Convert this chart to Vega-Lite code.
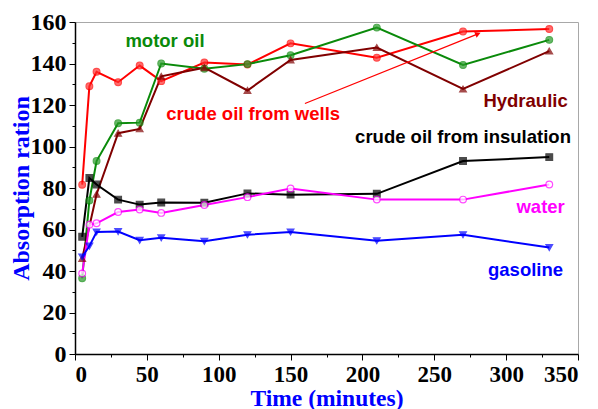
{
  "$schema": "https://vega.github.io/schema/vega-lite/v6.json",
  "autosize": {"type": "none"},
  "padding": {"left": 75, "top": 22, "right": 20, "bottom": 55},
  "width": 503,
  "height": 332,
  "config": {"view": {"stroke": "#a8a8a8", "strokeWidth": 1}},
  "datasets": {
    "series": [
      {"s": "wells", "t": 5, "v": 81.6}, {"s": "wells", "t": 10, "v": 129}, {"s": "wells", "t": 15, "v": 136}, {"s": "wells", "t": 30, "v": 131}, {"s": "wells", "t": 45, "v": 139}, {"s": "wells", "t": 60, "v": 131.5}, {"s": "wells", "t": 90, "v": 140.5}, {"s": "wells", "t": 120, "v": 139.5}, {"s": "wells", "t": 150, "v": 149.7}, {"s": "wells", "t": 210, "v": 142.8}, {"s": "wells", "t": 270, "v": 155.4}, {"s": "wells", "t": 330, "v": 156.6},
      {"s": "motor", "t": 5, "v": 36.5}, {"s": "motor", "t": 10, "v": 74}, {"s": "motor", "t": 15, "v": 93}, {"s": "motor", "t": 30, "v": 111.2}, {"s": "motor", "t": 45, "v": 111.5}, {"s": "motor", "t": 60, "v": 140}, {"s": "motor", "t": 90, "v": 137.5}, {"s": "motor", "t": 120, "v": 139.7}, {"s": "motor", "t": 150, "v": 144}, {"s": "motor", "t": 210, "v": 157.3}, {"s": "motor", "t": 270, "v": 139.3}, {"s": "motor", "t": 330, "v": 151.4},
      {"s": "hydraulic", "t": 5, "v": 46}, {"s": "hydraulic", "t": 15, "v": 77}, {"s": "hydraulic", "t": 30, "v": 106.4}, {"s": "hydraulic", "t": 45, "v": 108.5}, {"s": "hydraulic", "t": 60, "v": 133.8}, {"s": "hydraulic", "t": 90, "v": 138}, {"s": "hydraulic", "t": 120, "v": 127}, {"s": "hydraulic", "t": 150, "v": 141.7}, {"s": "hydraulic", "t": 210, "v": 147.7}, {"s": "hydraulic", "t": 270, "v": 127.7}, {"s": "hydraulic", "t": 330, "v": 146},
      {"s": "insulation", "t": 5, "v": 56.5}, {"s": "insulation", "t": 10, "v": 84.8}, {"s": "insulation", "t": 15, "v": 81.7}, {"s": "insulation", "t": 30, "v": 74.4}, {"s": "insulation", "t": 45, "v": 72}, {"s": "insulation", "t": 60, "v": 73}, {"s": "insulation", "t": 90, "v": 72.9}, {"s": "insulation", "t": 120, "v": 77.4}, {"s": "insulation", "t": 150, "v": 76.8}, {"s": "insulation", "t": 210, "v": 77.2}, {"s": "insulation", "t": 270, "v": 93}, {"s": "insulation", "t": 330, "v": 94.9},
      {"s": "water", "t": 5, "v": 38.8}, {"s": "water", "t": 10, "v": 62.3}, {"s": "water", "t": 15, "v": 63}, {"s": "water", "t": 30, "v": 68.4}, {"s": "water", "t": 45, "v": 69.6}, {"s": "water", "t": 60, "v": 68}, {"s": "water", "t": 90, "v": 71.8}, {"s": "water", "t": 120, "v": 75.6}, {"s": "water", "t": 150, "v": 79.8}, {"s": "water", "t": 210, "v": 74.4}, {"s": "water", "t": 270, "v": 74.4}, {"s": "water", "t": 330, "v": 81.7},
      {"s": "gasoline", "t": 5, "v": 46.8}, {"s": "gasoline", "t": 10, "v": 52}, {"s": "gasoline", "t": 15, "v": 58.8}, {"s": "gasoline", "t": 30, "v": 59}, {"s": "gasoline", "t": 45, "v": 54.8}, {"s": "gasoline", "t": 60, "v": 56}, {"s": "gasoline", "t": 90, "v": 54.3}, {"s": "gasoline", "t": 120, "v": 57.5}, {"s": "gasoline", "t": 150, "v": 58.8}, {"s": "gasoline", "t": 210, "v": 54.6}, {"s": "gasoline", "t": 270, "v": 57.5}, {"s": "gasoline", "t": 330, "v": 51.3}
    ],
    "labels": [
      {"s": "motor", "t": 62.6, "v": 151, "text": "motor oil"},
      {"s": "wells", "t": 124, "v": 115.9, "text": "crude oil from wells"},
      {"s": "hydraulic", "t": 313.5, "v": 122, "text": "Hydraulic"},
      {"s": "insulation", "t": 270, "v": 104.5, "text": "crude oil from insulation"},
      {"s": "water", "t": 324, "v": 70.8, "text": "water"},
      {"s": "gasoline", "t": 313.5, "v": 40.4, "text": "gasoline"}
    ],
    "arrow": [
      {"t": 160, "v": 120.7, "t2": 280.4, "v2": 154.3}
    ]
  },
  "encoding": {
    "x": {"field": "t", "type": "quantitative", "scale": {"domain": [0, 350], "nice": false, "zero": false},
      "axis": {"values": [0, 25, 50, 75, 100, 125, 150, 175, 200, 225, 250, 275, 300, 325, 350],
        "labelExpr": "datum.value % 50 === 0 ? datum.label : ''",
        "tickSize": {"condition": {"test": "datum.value % 50 === 0", "value": 6}, "value": 3},
        "title": "Time (minutes)", "grid": false, "domainColor": "black", "domainWidth": 1.5, "tickColor": "black", "tickWidth": 1,
        "labelFont": "Liberation Serif", "labelFontSize": 23, "labelFontWeight": "bold", "labelColor": "black", "labelPadding": 3,
        "titleFont": "Liberation Serif", "titleFontSize": 23.5, "titleFontWeight": "bold", "titleColor": "#0000ff", "titlePadding": 0}},
    "y": {"field": "v", "type": "quantitative", "scale": {"domain": [0, 160], "nice": false},
      "axis": {"values": [0, 10, 20, 30, 40, 50, 60, 70, 80, 90, 100, 110, 120, 130, 140, 150, 160],
        "labelExpr": "datum.value % 20 === 0 ? datum.label : ''",
        "tickSize": {"condition": {"test": "datum.value % 20 === 0", "value": 6}, "value": 3},
        "title": "Absorption ration", "grid": false, "domainColor": "black", "domainWidth": 1.5, "tickColor": "black", "tickWidth": 1,
        "labelFont": "Liberation Serif", "labelFontSize": 24, "labelFontWeight": "bold", "labelColor": "black", "labelPadding": 3,
        "titleFont": "Liberation Serif", "titleFontSize": 24, "titleFontWeight": "bold", "titleColor": "#0000ff", "titlePadding": -3}}
  },
  "layer": [
    {
      "data": {"name": "series"},
      "mark": {"type": "line", "strokeWidth": 2},
      "encoding": {
        "color": {"field": "s", "type": "nominal", "legend": null,
          "scale": {"domain": ["wells", "motor", "hydraulic", "insulation", "water", "gasoline"], "range": ["#ff0000", "#0a8a0a", "#800000", "#000000", "#ff00ff", "#0000ff"]}}
      }
    },
    {
      "data": {"name": "series"},
      "mark": {"type": "point", "filled": true, "strokeWidth": 1.2, "size": 45},
      "encoding": {
        "shape": {"field": "s", "type": "nominal", "legend": null,
          "scale": {"domain": ["wells", "motor", "hydraulic", "insulation", "water", "gasoline"], "range": ["circle", "circle", "triangle-up", "square", "circle", "triangle-down"]}},
        "fill": {"field": "s", "type": "nominal", "legend": null,
          "scale": {"domain": ["wells", "motor", "hydraulic", "insulation", "water", "gasoline"], "range": ["#ff3030", "#2a9a2a", "#800000", "#000000", "#ffffff", "#0000ff"]}},
        "stroke": {"field": "s", "type": "nominal", "legend": null,
          "scale": {"domain": ["wells", "motor", "hydraulic", "insulation", "water", "gasoline"], "range": ["#ff0000", "#0a8a0a", "#800000", "#000000", "#ff00ff", "#0000ff"]}},
        "fillOpacity": {"value": 1}
      }
    },
    {
      "data": {"name": "arrow"},
      "mark": {"type": "rule", "color": "#ff0000", "strokeWidth": 1.2},
      "encoding": {
        "x2": {"field": "t2"},
        "y2": {"field": "v2"}
      }
    },
    {
      "data": {"name": "arrow"},
      "mark": {"type": "point", "shape": "triangle-up", "filled": true, "color": "#ff0000", "size": 40, "angle": 68, "opacity": 1},
      "encoding": {
        "x": {"field": "t2", "type": "quantitative"},
        "y": {"field": "v2", "type": "quantitative"}
      }
    },
    {
      "data": {"name": "labels"},
      "mark": {"type": "text", "font": "Liberation Sans", "fontWeight": "bold", "fontSize": 18.5, "align": "center", "baseline": "middle"},
      "encoding": {
        "text": {"field": "text"},
        "color": {"field": "s", "type": "nominal", "legend": null,
          "scale": {"domain": ["wells", "motor", "hydraulic", "insulation", "water", "gasoline"], "range": ["#ff0000", "#0a8a0a", "#800000", "#000000", "#ff00ff", "#0000ff"]}}
      }
    }
  ]
}
